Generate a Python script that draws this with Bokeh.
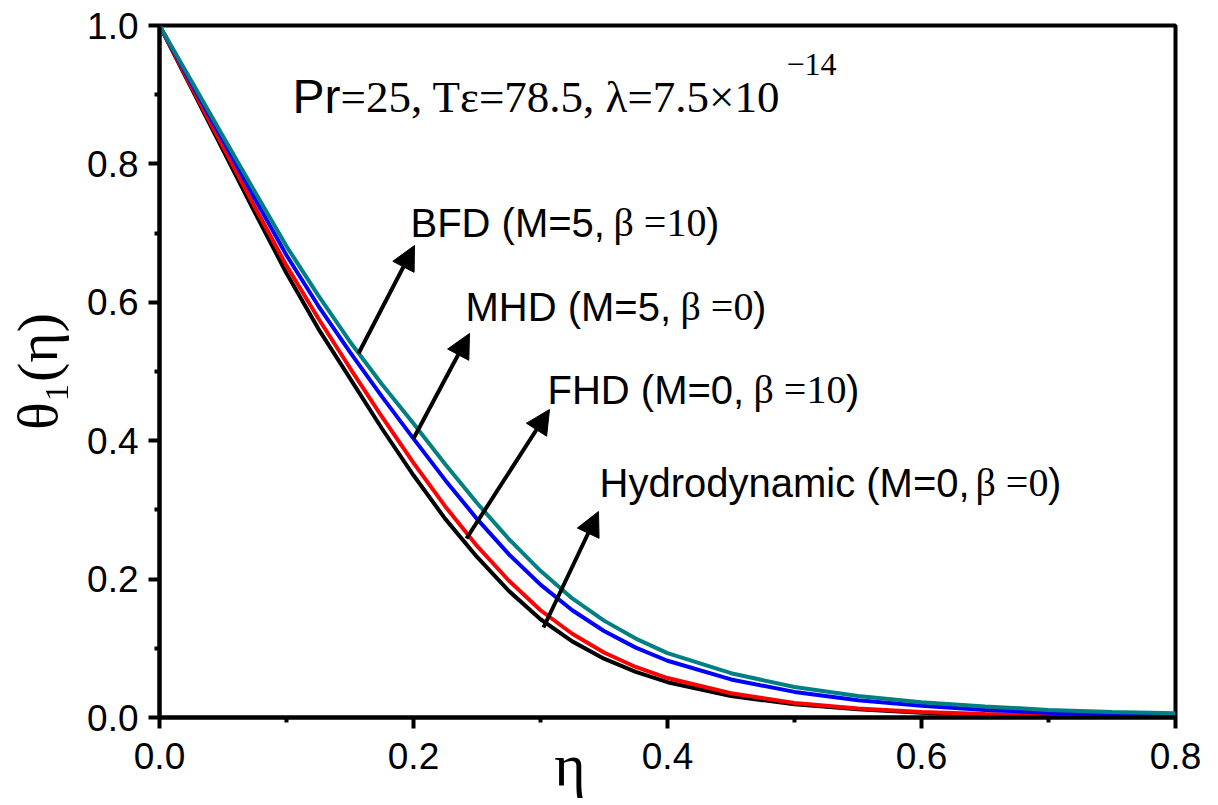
import math
from bokeh.plotting import figure
from bokeh.models import Range1d, FixedTicker, PrintfTickFormatter, Label, Arrow, NormalHead
from bokeh.embed import file_html
from bokeh.resources import INLINE

# ---------------- data ----------------
eta = [0.0, 0.025, 0.05, 0.075, 0.10, 0.125, 0.15, 0.175, 0.20, 0.225, 0.25, 0.275, 0.30,
       0.325, 0.35, 0.375, 0.40, 0.45, 0.50, 0.55, 0.60, 0.65, 0.70, 0.75, 0.80]
theta_hydro = [1.0, 0.910, 0.820, 0.730, 0.642, 0.562, 0.490, 0.418, 0.350, 0.287, 0.232, 0.183, 0.142,
               0.110, 0.085, 0.066, 0.051, 0.031, 0.019, 0.012, 0.007, 0.004, 0.003, 0.002, 0.001]
theta_fhd = [1.0, 0.912, 0.825, 0.738, 0.653, 0.577, 0.505, 0.435, 0.368, 0.305, 0.248, 0.198, 0.155,
             0.121, 0.094, 0.073, 0.057, 0.035, 0.021, 0.013, 0.008, 0.005, 0.003, 0.002, 0.001]
theta_mhd = [1.0, 0.917, 0.834, 0.750, 0.668, 0.595, 0.528, 0.464, 0.403, 0.343, 0.287, 0.236, 0.192,
             0.155, 0.125, 0.101, 0.082, 0.055, 0.037, 0.025, 0.017, 0.011, 0.007, 0.005, 0.003]
theta_bfd = [1.0, 0.920, 0.840, 0.760, 0.681, 0.610, 0.543, 0.482, 0.425, 0.366, 0.310, 0.258, 0.212,
             0.172, 0.140, 0.114, 0.093, 0.064, 0.044, 0.031, 0.022, 0.016, 0.011, 0.008, 0.006]

x_ticks = [0.0, 0.2, 0.4, 0.6, 0.8]
x_minor = [0.1, 0.3, 0.5, 0.7]
y_ticks = [0.0, 0.2, 0.4, 0.6, 0.8, 1.0]
y_minor = [0.1, 0.3, 0.5, 0.7, 0.9]

series = [
    (theta_hydro, "black"),
    (theta_fhd, "#ff0000"),
    (theta_mhd, "#0000ff"),
    (theta_bfd, "#008080"),
]

# ---------------- layout ----------------
W, H = 1210, 800
FL, FR, FT, FB = 159, 1175, 25, 717   # frame edges in pixels
X0, X1, Y0, Y1 = 0.0, 0.8, 0.0, 1.0

p = figure(width=W, height=H, x_range=Range1d(X0, X1), y_range=Range1d(Y0, Y1),
           output_backend="svg", toolbar_location=None,
           min_border_left=FL, min_border_right=W - FR,
           min_border_top=FT, min_border_bottom=H - FB)
p.grid.visible = False
p.background_fill_color = "white"
p.border_fill_color = "white"
p.outline_line_color = "black"
p.outline_line_width = 4
p.outline_line_alpha = 1.0

for ax, t, m in ((p.xaxis[0], x_ticks, x_minor), (p.yaxis[0], y_ticks, y_minor)):
    ax.ticker = FixedTicker(ticks=t, minor_ticks=m)
    ax.formatter = PrintfTickFormatter(format="%.1f")
    ax.axis_line_width = 4
    ax.axis_line_color = "black"
    ax.major_tick_line_width = 4
    ax.major_tick_out = 11
    ax.major_tick_in = 0
    ax.minor_tick_line_width = 4
    ax.minor_tick_out = 5
    ax.minor_tick_in = 0
    ax.major_label_text_font = "Liberation Sans"
    ax.major_label_text_font_size = "37px"
    ax.major_label_text_color = "black"
    ax.axis_label_text_font = "Liberation Serif"
    ax.axis_label_text_font_style = "normal"
    ax.axis_label_text_color = "black"
p.xaxis.major_label_standoff = 14
p.yaxis.major_label_standoff = 10

# axis titles (x title sits left of centre in the reference: padded with no-break spaces)
p.yaxis.axis_label = "θ₁(η)"
p.yaxis.axis_label_text_font_size = "58px"
p.yaxis.axis_label_standoff = 14
p.xaxis.axis_label = "η" + "\u00a0" * 13
p.xaxis.axis_label_text_font_size = "60px"
p.xaxis.axis_label_text_line_height = 0.6
p.xaxis.axis_label_standoff = -40

for ys, col in series:
    p.line(eta, ys, line_color=col, line_width=4)

# helpers: picture pixel -> data coords
def dx(px):
    return X0 + (px - FL) / (FR - FL) * (X1 - X0)

def dy(py):
    return Y0 + (FB - py) / (FB - FT) * (Y1 - Y0)

SHIFT = 17  # empirical baseline correction for Label placement

def lab(px, py, text, font="Liberation Sans", size=40, align="left", base="alphabetic"):
    p.add_layout(Label(x=dx(px), y=dy(py - SHIFT), text=text, text_font=font,
                       text_font_size=f"{size}px", text_color="black",
                       text_align=align, text_baseline=base))

# parameter text
lab(292, 113, "Pr", size=48)
lab(340, 113, "=25, Tε=78.5, λ=7.5×10", font="Liberation Serif", size=45)
lab(786, 81, "−14", font="Liberation Serif", size=32)

# curve annotations
ann = [
    (410, 239, "BFD (M=5,", 613, "β =10"),
    (465, 323, "MHD (M=5,", 680, "β =0"),
    (547, 406, "FHD (M=0,", 753, "β =10"),
    (599, 499, "Hydrodynamic (M=0,", 975, "β =0"),
]
for sx, sy, s_txt, bx, b_txt in ann:
    lab(sx, sy, s_txt, size=40)
    lab(bx, sy, b_txt, font="Liberation Serif", size=40)
    w = 0.0
    for ch in b_txt:
        w += {"β": 0.50, " ": 0.25, "=": 0.564}.get(ch, 0.5)
    lab(bx + w * 40, sy, ")", size=40)

arrows = [
    ((358, 353), (414, 245)),
    ((413, 438), (469, 333)),
    ((466, 538), (549, 409)),
    ((543, 627), (598, 511)),
]
for (tx, ty), (hx, hy) in arrows:
    p.add_layout(Arrow(end=NormalHead(size=24, fill_color="black", line_color="black", line_width=1),
                       x_start=dx(tx), y_start=dy(ty), x_end=dx(hx), y_end=dy(hy),
                       line_color="black", line_width=4))

open("out.html", "w").write(file_html(p, INLINE))
